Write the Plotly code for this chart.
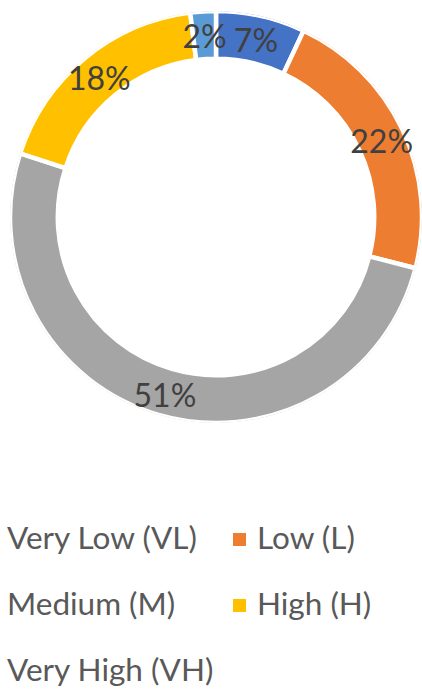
import plotly.graph_objects as go

# slices, clockwise from 12 o'clock
labels = ["Very Low (VL)", "Low (L)", "Medium (M)", "High (H)", "Very High (VH)"]
values = [7, 22, 51, 18, 2]
colors = ["#4472C4", "#ED7D31", "#A5A5A5", "#FFC000", "#5B9BD5"]

W, H = 422, 691

# donut placement in px
cx, cy, r = 216, 217, 206
hole = 0.768
domain = dict(x=[(cx - r) / W, min(1, (cx + r) / W)],
              y=[1 - (cy + r) / H, 1 - (cy - r) / H])
# labels' subplot nudged down a few px so the digits sit centred in the ring
label_dy = 6
label_domain = dict(x=domain["x"], y=[domain["y"][0] - label_dy / H, domain["y"][1] - label_dy / H])

# slice angles from the values
total = sum(values)
mid_theta = []
widths = []
pct_text = []
acc = 0
for v in values:
    mid_theta.append((acc + v / 2) / total * 360)
    widths.append(v / total * 360)
    pct_text.append(f"{round(v / total * 100)}%")
    acc += v

fig = go.Figure()
# donut ring as polar bars so the labels can sit on top of it
fig.add_trace(go.Barpolar(
    r=[1 - hole] * len(values),
    base=[hole] * len(values),
    theta=mid_theta,
    width=widths,
    marker=dict(color=colors, line=dict(color="white", width=4.5)),
    hovertext=labels,
    hoverinfo="text",
    showlegend=False,
))
# percent labels at the middle of each slice, like Excel does
fig.add_trace(go.Scatterpolar(
    r=[(1 + hole) / 2 + 0.005] * len(values),
    theta=mid_theta,
    text=pct_text,
    mode="text",
    textfont=dict(family="Lato", size=32, color="#404040"),
    cliponaxis=False,
    showlegend=False,
    hoverinfo="skip",
    subplot="polar2",
))

# legend drawn by hand: two columns, the left one's markers fall off the canvas
shapes = []
annotations = []
for i, (lab, col) in enumerate(zip(labels, colors)):
    tx = 8 + 250 * (i % 2)
    ty = 539.5 + 66 * (i // 2)
    shapes.append(dict(type="rect", xref="paper", yref="paper",
                       x0=(tx - 25) / W, x1=(tx - 12) / W,
                       y0=1 - (ty + 6.5) / H, y1=1 - (ty - 6.5) / H,
                       fillcolor=col, line=dict(width=0)))
    annotations.append(dict(text=lab, xref="paper", yref="paper",
                            x=(tx - 3) / W, y=1 - (ty - 3) / H, xanchor="left", yanchor="middle",
                            showarrow=False,
                            font=dict(family="Lato", size=31.5, color="#595959")))

hidden_polar = dict(
    bgcolor="rgba(0,0,0,0)",
    radialaxis=dict(visible=False, range=[0, 1]),
    angularaxis=dict(visible=False, rotation=90, direction="clockwise"),
)

fig.update_layout(
    width=W, height=H,
    margin=dict(l=0, r=0, t=0, b=0),
    paper_bgcolor="white",
    plot_bgcolor="white",
    polar=dict(domain=domain, **hidden_polar),
    polar2=dict(domain=label_domain, **hidden_polar),
    shapes=shapes,
    annotations=annotations,
)

# drop the default 8px body margin so the figure fills the window exactly
fig.write_html("out.html", config={"displayModeBar": False},
               post_script="document.body.style.margin = '0';")
